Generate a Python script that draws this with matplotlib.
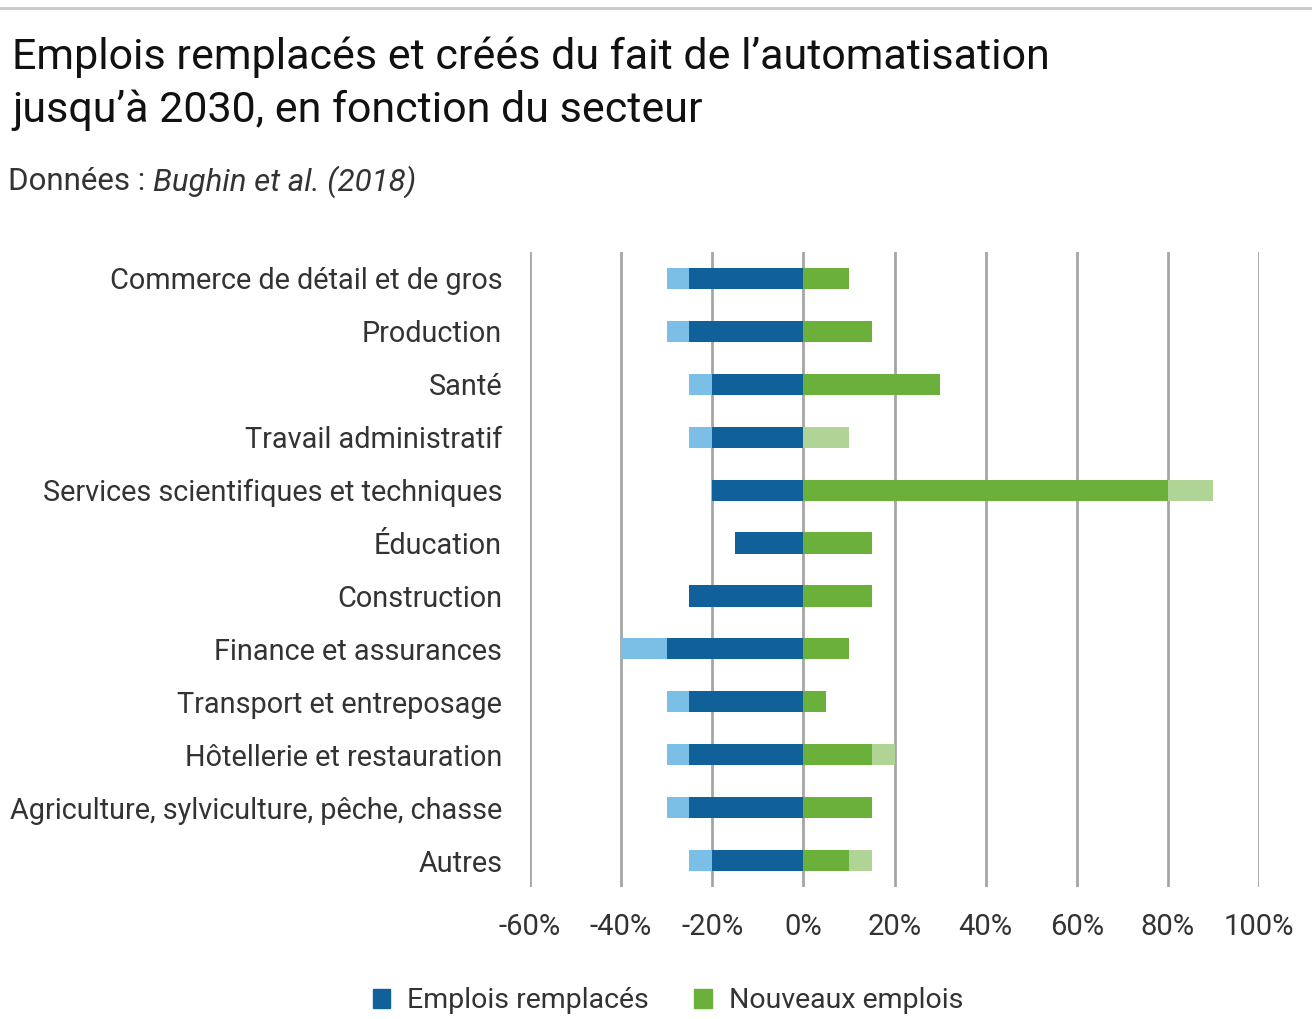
import matplotlib
matplotlib.use("Agg")
import matplotlib.pyplot as plt
from matplotlib.patches import Patch
import numpy as np

plt.rcParams['font.family'] = ['Roboto', 'DejaVu Sans']

categories = ["Commerce de détail et de gros", "Production", "Santé", "Travail administratif",
              "Services scientifiques et techniques", "Éducation", "Construction",
              "Finance et assurances", "Transport et entreposage", "Hôtellerie et restauration",
              "Agriculture, sylviculture, pêche, chasse", "Autres"]
# Emplois remplacés (%): low estimate (dark) and high estimate (light, total)
replaced_low = [-25, -25, -20, -20, -20, -15, -25, -30, -25, -25, -25, -20]
replaced_high = [-30, -30, -25, -25, -20, -15, -25, -40, -30, -30, -30, -25]
# Nouveaux emplois (%): low estimate (dark) and high estimate (light, total)
new_low = [10, 15, 30, 0, 80, 15, 15, 10, 5, 15, 15, 10]
new_high = [10, 15, 30, 10, 90, 15, 15, 10, 5, 20, 15, 15]
xticks = [-60, -40, -20, 0, 20, 40, 60, 80, 100]

DARK_BLUE = "#10609A"
LIGHT_BLUE = "#7BBFE6"
GREEN = "#6CB03C"
LIGHT_GREEN = "#B0D496"
GRID = "#A6A6A6"
TXT = "#333333"

fig = plt.figure(figsize=(13.12, 10.19), dpi=100)
ax = fig.add_axes([530/1312, 1 - 887/1019, (1259-530)/1312, (887-252)/1019])

y = np.arange(len(categories))
h = 0.4
rl = np.array(replaced_low); rh = np.array(replaced_high)
nl = np.array(new_low); nh = np.array(new_high)
ax.barh(y, rh - rl, left=rl, height=h, color=LIGHT_BLUE, zorder=3)
ax.barh(y, rl, height=h, color=DARK_BLUE, zorder=3)
ax.barh(y, nh - nl, left=nl, height=h, color=LIGHT_GREEN, zorder=3)
ax.barh(y, nl, height=h, color=GREEN, zorder=3)

ax.set_xlim(-60, 100)
ax.set_ylim(len(categories) - 0.5, -0.5)
ax.set_xticks(xticks)
ax.set_xticklabels([f"{t}%" for t in xticks], fontsize=21, color=TXT)
ax.set_yticks(y)
ax.set_yticklabels(categories, fontsize=20.8, color=TXT)
ax.tick_params(axis='both', length=0)
ax.tick_params(axis='x', pad=19)
ax.tick_params(axis='y', pad=20)
for s in ax.spines.values():
    s.set_visible(False)
ax.grid(axis='x', color=GRID, linewidth=2, zorder=0)
ax.set_axisbelow(True)

# top rule
fig.add_artist(plt.Line2D([0, 1], [1 - 8/1019, 1 - 8/1019], color="#C8C8C8", linewidth=2))

fig.text(12/1312, 1 - 57/1019, "Emplois remplacés et créés du fait de l’automatisation",
         fontsize=31, color="#111111", va='center', ha='left')
fig.text(12/1312, 1 - 110/1019, "jusqu’à 2030, en fonction du secteur",
         fontsize=31, color="#111111", va='center', ha='left')

t1 = fig.text(8/1312, 1 - 182/1019, "Données : ", fontsize=22.5, color=TXT, va='center', ha='left')
fig.canvas.draw()
bb = t1.get_window_extent()
fig.text(bb.x1 / fig.bbox.width, 1 - 182/1019, "Bughin et al. (2018)", fontsize=22.5,
         color=TXT, va='center', ha='left', style='italic')

handles = [Patch(color=DARK_BLUE, label="Emplois remplacés"),
           Patch(color=GREEN, label="Nouveaux emplois")]
fig.legend(handles=handles, loc='center', bbox_to_anchor=(668/1312, 1 - 1001/1019), ncol=2,
           frameon=False, fontsize=20.5, handlelength=0.6, handleheight=0.6, columnspacing=1.6,
           handletextpad=0.6, labelcolor=TXT)

fig.savefig("out.png", dpi=100)
